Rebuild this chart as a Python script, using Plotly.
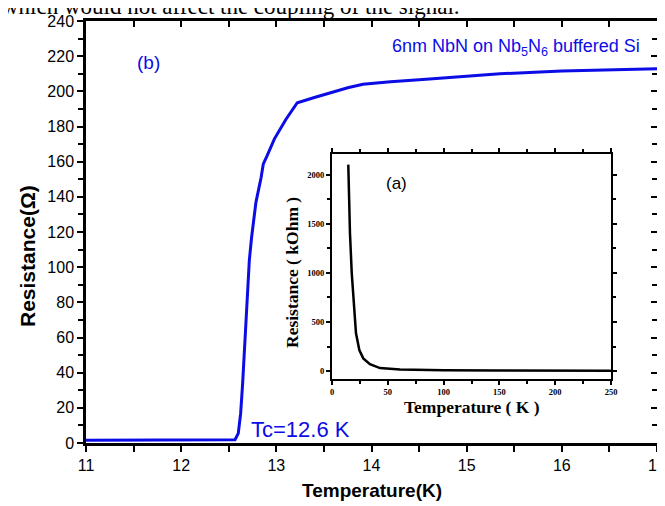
import plotly.graph_objects as go

# Main curve (b): NbN film resistance near Tc
temp_main = [11.0, 11.5, 12.0, 12.3, 12.5, 12.55, 12.566, 12.6, 12.625, 12.646, 12.67, 12.695,
             12.716, 12.74, 12.786, 12.84, 12.863, 12.9, 12.98, 13.1, 13.22, 13.4, 13.56,
             13.75, 13.91, 14.2, 14.61, 15.0, 15.35, 16.0, 16.5, 17.0]
res_main = [1.5, 1.5, 1.5, 1.5, 1.5, 1.6, 1.9, 5.5, 16.8, 33.9, 60.3, 86.8,
            103.8, 117.0, 137.0, 151.0, 158.7, 163.0, 173.0, 184.0, 193.5, 196.5, 199.0,
            202.0, 204.0, 205.5, 207.0, 208.5, 210.0, 211.5, 212.3, 212.8]

# Inset curve (a): resistance in kOhm vs temperature up to 250 K
temp_inset = [14.6, 16.1, 17.7, 19.1, 21.5, 24.5, 28, 34, 43, 61, 80, 100, 150, 200, 250]
res_inset = [2102, 1405, 997, 724, 385, 214, 130, 71, 31, 17, 11, 8, 6, 5, 4]

main_xticks = [11, 12, 13, 14, 15, 16, 17]
main_yticks = list(range(0, 241, 20))
inset_xticks = [0, 50, 100, 150, 200, 250]
inset_yticks = [0, 500, 1000, 1500, 2000]

W, H = 665, 506
OFF = 8  # page body margin offset of the plot div


def px(x):
    return (x - OFF) / W


def py(y):
    return 1 - (y - OFF) / H


BLUE = "#0c0ce6"
SANS = "Liberation Sans, Arial, sans-serif"
SERIF = "Liberation Serif, Times New Roman, serif"

fig = go.Figure()
fig.add_trace(go.Scatter(x=temp_main, y=res_main, mode="lines",
                         line=dict(color=BLUE, width=3), xaxis="x", yaxis="y",
                         showlegend=False, hoverinfo="skip"))
# invisible trace to carry the inside-tick overlay axes (top/right)
fig.add_trace(go.Scatter(x=temp_main, y=res_main, mode="lines", opacity=0,
                         line=dict(width=0), xaxis="x3", yaxis="y3",
                         showlegend=False, hoverinfo="skip"))
fig.add_trace(go.Scatter(x=temp_inset, y=res_inset, mode="lines",
                         line=dict(color="black", width=2.5), xaxis="x2", yaxis="y2",
                         showlegend=False, hoverinfo="skip"))

main_dom_x = [px(86), px(657)]
main_dom_y = [py(443), py(21)]
ins_dom_x = [px(332), px(611)]
ins_dom_y = [py(379), py(154)]

fig.update_layout(
    width=W, height=H,
    margin=dict(l=0, r=0, t=0, b=0, autoexpand=False),
    paper_bgcolor="white", plot_bgcolor="white",
    font=dict(family=SANS, color="black"),
    xaxis=dict(domain=main_dom_x, range=[11, 17], tickvals=main_xticks, automargin=False,
               ticks="outside", ticklen=6, tickwidth=2, tickcolor="black",
               minor=dict(dtick=0.5, ticks="outside", ticklen=6, tickwidth=2, tickcolor="black"),
               showline=True, linewidth=2.5, linecolor="black", mirror=True,
               showgrid=False, zeroline=False, anchor="y",
               tickfont=dict(size=16, family=SANS)),
    yaxis=dict(domain=main_dom_y, range=[0, 240], tickvals=main_yticks, automargin=False,
               ticks="outside", ticklen=6, tickwidth=2, tickcolor="black",
               minor=dict(dtick=10, ticks="outside", ticklen=5, tickwidth=2, tickcolor="black"),
               showline=True, linewidth=2.5, linecolor="black", mirror=True,
               showgrid=False, zeroline=False, anchor="x",
               tickfont=dict(size=16, family=SANS)),
    xaxis3=dict(domain=main_dom_x, range=[11, 17], overlaying="x", side="top", automargin=False,
                anchor="y3", tickvals=main_xticks, ticks="inside", ticklen=6, tickwidth=2,
                tickcolor="black", showticklabels=False, showgrid=False, zeroline=False,
                showline=False,
                minor=dict(dtick=0.5, ticks="inside", ticklen=6, tickwidth=2, tickcolor="black")),
    yaxis3=dict(domain=main_dom_y, range=[0, 240], overlaying="y", side="right", automargin=False,
                anchor="x3", tickvals=main_yticks, ticks="inside", ticklen=6, tickwidth=2,
                tickcolor="black", showticklabels=False, showgrid=False, zeroline=False,
                showline=False,
                minor=dict(dtick=10, ticks="inside", ticklen=5, tickwidth=2, tickcolor="black")),
    xaxis2=dict(domain=ins_dom_x, range=[0, 250], tickvals=inset_xticks, anchor="y2",
                automargin=False,
                ticks="outside", ticklen=4, tickwidth=1.5, tickcolor="black",
                minor=dict(dtick=25, ticks="outside", ticklen=3, tickwidth=1.5, tickcolor="black"),
                showline=True, linewidth=2, linecolor="black", mirror="ticks",
                showgrid=False, zeroline=False,
                tickfont=dict(size=8.5, family=SERIF, weight="bold")),
    yaxis2=dict(domain=ins_dom_y, range=[-80, 2210], tickvals=inset_yticks, anchor="x2",
                automargin=False,
                ticks="outside", ticklen=4, tickwidth=1.5, tickcolor="black",
                minor=dict(dtick=250, ticks="outside", ticklen=3, tickwidth=1.5, tickcolor="black"),
                showline=True, linewidth=2, linecolor="black", mirror="ticks",
                showgrid=False, zeroline=False,
                tickfont=dict(size=8.5, family=SERIF, weight="bold")),
)

# inset white background
fig.add_shape(type="rect", xref="paper", yref="paper",
              x0=ins_dom_x[0], x1=ins_dom_x[1], y0=ins_dom_y[0], y1=ins_dom_y[1],
              fillcolor="white", line=dict(width=0), layer="below")

ann = [
    dict(text="which would not affect the coupling of the signal.", x=px(0), y=py(21),
         xanchor="left", yanchor="bottom", font=dict(family=SERIF, size=23, color="black")),
    dict(text="<b>Resistance(Ω)</b>", x=px(27), y=py(256), textangle=-90,
         xanchor="center", yanchor="middle", font=dict(family=SANS, size=21)),
    dict(text="<b>Temperature(K)</b>", x=px(372), y=py(490),
         xanchor="center", yanchor="middle", font=dict(family=SANS, size=19)),
    dict(text="(b)", x=px(148), y=py(62), xanchor="center", yanchor="middle",
         font=dict(family=SANS, size=19, color=BLUE)),
    dict(text="6nm NbN on Nb<sub>5</sub>N<sub>6</sub> buffered Si", x=px(642), y=py(48),
         xanchor="right", yanchor="middle", font=dict(family=SANS, size=18, color=BLUE)),
    dict(text="Tc=12.6 K", x=px(249), y=py(429), xanchor="left", yanchor="middle",
         font=dict(family=SANS, size=22, color=BLUE)),
    dict(text="(a)", x=px(396), y=py(183), xanchor="center", yanchor="middle",
         font=dict(family=SANS, size=17, color="black")),
    dict(text="<b>Temperature ( K )</b>", x=px(472), y=py(407), xanchor="center",
         yanchor="middle", font=dict(family=SERIF, size=17.5)),
    dict(text="<b>Resistance ( kOhm )</b>", x=px(292), y=py(273), textangle=-90,
         xanchor="center", yanchor="middle", font=dict(family=SERIF, size=17.5)),
]
for a in ann:
    fig.add_annotation(xref="paper", yref="paper", showarrow=False, **a)

fig.write_html("out.html")
